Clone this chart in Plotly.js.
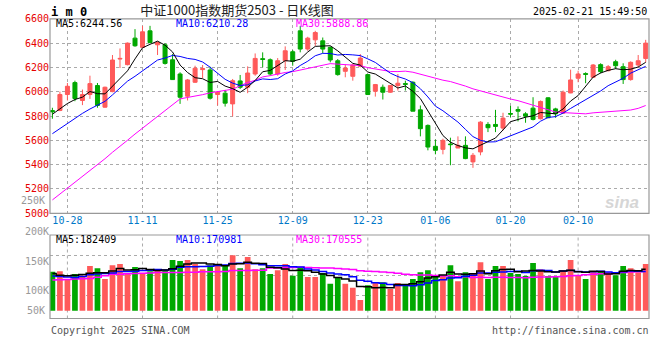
<!DOCTYPE html>
<html>
<head>
<meta charset="utf-8">
<script src="https://cdn.plot.ly/plotly-3.0.1.min.js"></script>
<style>html,body{margin:0;padding:0;background:#fff;}#chart{width:660px;height:360px;}</style>
</head>
<body>
<div id="chart"></div>
<script>
// ---- data ----
const dates = [
 '10-24','10-25','10-28','10-29','10-30','10-31',
 '11-01','11-04','11-05','11-06','11-07','11-08','11-11','11-12','11-13','11-14','11-15',
 '11-18','11-19','11-20','11-21','11-22','11-25','11-26','11-27','11-28','11-29',
 '12-02','12-03','12-04','12-05','12-06','12-09','12-10','12-11','12-12','12-13',
 '12-16','12-17','12-18','12-19','12-20','12-23','12-24','12-25','12-26','12-27','12-30','12-31',
 '01-02','01-03','01-06','01-07','01-08','01-09','01-10','01-13','01-14','01-15','01-16','01-17',
 '01-20','01-21','01-22','01-23','01-24','01-27',
 '02-05','02-06','02-07','02-10','02-11','02-12','02-13','02-14','02-17','02-18','02-19','02-20','02-21'
];
const openP = [5845,5846,5977,6075,5928,5977,6051,5873,6001,6269,6223,6441,6365,6501,6386,6386,6263,6146,5963,6078,
 6182,6179,5977,5988,5900,6089,6037,6146,6272,6263,6146,6255,6329,6501,6351,6427,6419,6365,6255,6168,
 6127,6209,6141,6004,6037,5996,6051,6067,6078,5851,5723,5551,5526,5570,5537,5559,5423,5505,5731,5731,
 5701,5821,5854,5818,5865,5778,5950,5859,5824,5990,6111,6149,6119,6223,6173,6247,6206,6100,6220,6274];
const highP = [5868,6001,6072,6091,6018,6132,6072,6042,6302,6356,6405,6515,6542,6542,6414,6400,6310,6160,6105,6214,
 6220,6206,6001,6015,6105,6138,6209,6315,6324,6274,6277,6373,6343,6542,6452,6501,6446,6373,6269,6223,
 6228,6310,6146,6064,6059,6056,6146,6091,6086,5887,5731,5606,5614,5622,5633,5633,5496,5758,5750,5851,
 5827,5884,5879,5832,5955,5928,5955,5868,6010,6182,6173,6160,6228,6234,6220,6263,6234,6250,6302,6427];
const lowP = [5778,5840,5928,5922,5890,5941,5868,5868,5996,6195,6217,6370,6359,6397,6302,6223,6097,5900,5928,6072,
 6113,5936,5887,5878,5797,6023,5988,6132,6201,6132,6132,6179,6214,6324,6337,6378,6318,6242,6132,6119,
 6091,6201,5977,5960,5936,5990,6010,6010,5840,5633,5518,5485,5485,5395,5537,5445,5374,5477,5668,5668,
 5682,5791,5756,5745,5764,5772,5783,5786,5818,5988,6078,6070,6113,6152,6168,6187,6064,6091,6201,6242];
const closeP = [5835,5977,6045,5944,5977,6067,5887,6037,6261,6274,6400,6378,6493,6405,6405,6233,6100,5955,6097,6193,
 6190,5947,5996,5906,6091,6037,6154,6274,6266,6146,6255,6337,6250,6351,6441,6487,6351,6261,6141,6195,
 6220,6277,5977,6059,5996,6051,6070,6061,5840,5696,5545,5518,5600,5565,5559,5450,5477,5750,5704,5715,
 5783,5816,5840,5799,5772,5920,5786,5818,5996,6097,6146,6143,6220,6165,6206,6214,6100,6242,6255,6400];
// volume in thousands of lots
const volumeK = [131.9,133,119.5,128,125,141.5,138,119.5,143,145,130,140,130,133,136.4,134.7,151.7,150,151.7,145,
 136.4,143,145,141.5,160,138,156.8,136.4,138,128,134.7,145,125,140,123,123,129.7,111.6,123,111.6,
 104.7,84,109,114,114,102.5,112.7,109,119.5,131,134.7,123,124.6,143,116,131,128,148,119.5,141.5,
 141.5,129.7,128,124.6,146.6,136.4,124.6,124.6,134.7,151.7,124.6,119.5,133,133,131,126,141.5,138,131,145];
// moving-average values at the left edge (they depend on bars before the window)
const ma5Lead  = [5815,5862,5903,5936];
const ma10Lead = [5655,5698,5742,5781,5822,5858,5893,5921,5974];
const ma30Lead = [5110,5158,5206,5253,5306,5352,5401,5449,5502,5548,5601,5652,5699,5749,5796,5842,5889,5941,
 5953,5962,5976,5991,6001,6009,6021,6049,6076,6094,6122];
const vma5Lead  = [129,126,125,126];
const vma10Lead = [124.6,124,123,122,124,127,128,129,130];
const vma30Lead = [117.8,118.3,118.8,119.5,120,120.6,122.5,125,127.5,127.9,128.5,129,129.5,130,130.8,130.8,
 130.8,130.8,131.3,131.3,131.9,131.9,131.9,132.4,134,134,134,134.7,134.7];
const tickDates = ['10-28','11-11','11-25','12-09','12-23','01-06','01-20','02-10'];
const priceTicks = [5000,5200,5400,5600,5800,6000,6200,6400,6600];
const volTicks = [100,150,200];
const titleText = '中证1000指数期货2503 - 日K线图';
const symbolText = 'i m 0';
const stampText = '2025-02-21 15:49:50';
const maLabels = ['MA5:6244.56','MA10:6210.28','MA30:5888.86'];
const vmaLabels = ['MA5:182409','MA10:170981','MA30:170555'];

// ---- helpers ----
function movingAvg(src, n, lead){
  return src.map((v,i)=> i < n-1 ? lead[i] : src.slice(i-n+1,i+1).reduce((a,b)=>a+b,0)/n);
}
const W=660, H=360, ML=50, MR=11;
const px = x => (x-ML)/(W-ML-MR);
const py = y => 1 - y/H;

const RED='#ff5a5a', GREEN='#00a800', MAGENTA='#ff00ff', BLUE='#0000ff';
const MONO='DejaVu Sans Mono';
const GRID='#aaaaaa';

const ma5 = movingAvg(closeP,5,ma5Lead), ma10 = movingAvg(closeP,10,ma10Lead), ma30 = movingAvg(closeP,30,ma30Lead);
const vma5 = movingAvg(volumeK,5,vma5Lead), vma10 = movingAvg(volumeK,10,vma10Lead), vma30 = movingAvg(volumeK,30,vma30Lead);
const volColors = closeP.map((c,i)=> c>=openP[i] ? RED : GREEN);

const traces = [
  {type:'scatter', mode:'lines', x:dates, y:ma30, line:{color:MAGENTA,width:1}, xaxis:'x', yaxis:'y', hoverinfo:'skip'},
  {type:'scatter', mode:'lines', x:dates, y:ma10, line:{color:BLUE,width:1}, xaxis:'x', yaxis:'y', hoverinfo:'skip'},
  {type:'scatter', mode:'lines', x:dates, y:ma5, line:{color:'#000000',width:1}, xaxis:'x', yaxis:'y', hoverinfo:'skip'},
  {type:'candlestick', x:dates, open:openP, high:highP, low:lowP, close:closeP, xaxis:'x', yaxis:'y',
   whiskerwidth:0,
   increasing:{line:{color:RED,width:1}, fillcolor:RED},
   decreasing:{line:{color:GREEN,width:1}, fillcolor:GREEN}},
  {type:'bar', x:dates, y:volumeK, marker:{color:volColors, line:{width:0}}, xaxis:'x2', yaxis:'y2'},
  {type:'scatter', mode:'lines', x:dates, y:vma30, line:{color:MAGENTA,width:1.5,shape:'hvh'}, xaxis:'x2', yaxis:'y2'},
  {type:'scatter', mode:'lines', x:dates, y:vma10, line:{color:BLUE,width:1.5,shape:'hvh'}, xaxis:'x2', yaxis:'y2'},
  {type:'scatter', mode:'lines', x:dates, y:vma5, line:{color:'#000000',width:1.5,shape:'hvh'}, xaxis:'x2', yaxis:'y2'}
];

const xRange = [-0.32, 79.44];
const shapes = [];
// frames
shapes.push({type:'rect', xref:'paper', yref:'paper', x0:0, x1:1, y0:py(213.3), y1:py(18.8), line:{color:'#999',width:1.2}, layer:'above'});
shapes.push({type:'rect', xref:'paper', yref:'paper', x0:0, x1:1, y0:py(318.5), y1:py(235), line:{color:'#999',width:1.2}, layer:'above'});
// volume panel gridlines
[255.5,275.5,295.5].forEach(y=>shapes.push({type:'line', xref:'paper', yref:'paper', x0:0, x1:1, y0:py(y), y1:py(y), line:{color:GRID,width:1,dash:'dot'}, layer:'below'}));
tickDates.forEach(d=>shapes.push({type:'line', xref:'x2', yref:'paper', x0:dates.indexOf(d), x1:dates.indexOf(d), y0:py(318.5), y1:py(235), line:{color:GRID,width:1,dash:'dot'}, layer:'below'}));

const ann = (text,x,y,anchor,color,size,extra)=>Object.assign({text, xref:'paper', yref:'paper', x:px(x), y:py(y), xanchor:anchor, yanchor:'middle', showarrow:false, font:{family:MONO,size:size||10,color:color}}, extra||{});
const annotations = [
  ann('<b>'+symbolText+'</b>', 49, 11.5, 'left', '#000', 12),
  ann(stampText, 649, 11.5, 'right', '#000', 10),
  ann(maLabels[0], 54, 24, 'left', '#000'),
  ann(maLabels[1], 174, 24, 'left', BLUE),
  ann(maLabels[2], 294, 24, 'left', MAGENTA),
  ann(vmaLabels[0], 54, 239, 'left', '#000'),
  ann(vmaLabels[1], 174, 239, 'left', BLUE),
  ann(vmaLabels[2], 294, 239, 'left', MAGENTA),
  ann('250K', 47, 200.5, 'right', '#999'),
  ann('50K', 47, 310, 'right', '#999'),
  ann('Copyright 2025 SINA.COM', 49, 330, 'left', '#555'),
  ann('http://finance.sina.com.cn', 651, 330, 'right', '#555'),
  ann('<b><i>sina</i></b>', 622, 202, 'center', '#d6d6d6', 17, {font:{family:'Liberation Sans',size:17,color:'#d6d6d6'}})
];

const layout = {
  width:W, height:H, margin:{l:ML,r:MR,t:0,b:0,pad:0},
  paper_bgcolor:'#ffffff', plot_bgcolor:'#ffffff', showlegend:false,
  boxgap:0.24, bargap:0.24,
  title:{text:titleText, font:{family:'Noto Sans CJK SC',size:13,color:'#222'}, xref:'container', yref:'container', x:237/W, xanchor:'center', y:1-10.5/H, yanchor:'middle'},
  xaxis:{type:'category', range:xRange, anchor:'y', tickvals:tickDates, ticktext:tickDates, ticks:'', showgrid:true, gridcolor:GRID, griddash:'dot', gridwidth:1,
         tickfont:{family:MONO,size:10,color:'#0078c8'}, zeroline:false, showline:false, rangeslider:{visible:false}, fixedrange:true},
  yaxis:{domain:[py(213.3), py(18.8)], range:[5000,6600], tickvals:priceTicks, ticks:'', showgrid:true, gridcolor:GRID, griddash:'dot', gridwidth:1,
         tickfont:{family:MONO,size:10,color:'#e60000'}, zeroline:false, showline:false, fixedrange:true},
  xaxis2:{type:'category', range:xRange, anchor:'y2', showticklabels:false, ticks:'', showgrid:false, zeroline:false, showline:false, rangeslider:{visible:false}},
  yaxis2:{domain:[py(310.7), py(231.5)], range:[65.8,200.3], tickvals:volTicks, ticktext:volTicks.map(v=>v+'K'), ticks:'', showgrid:false, zeroline:false, showline:false,
          tickfont:{family:MONO,size:10,color:'#999'}},
  shapes, annotations
};

Plotly.newPlot('chart', traces, layout, {staticPlot:true, displayModeBar:false});
</script>
</body>
</html>
